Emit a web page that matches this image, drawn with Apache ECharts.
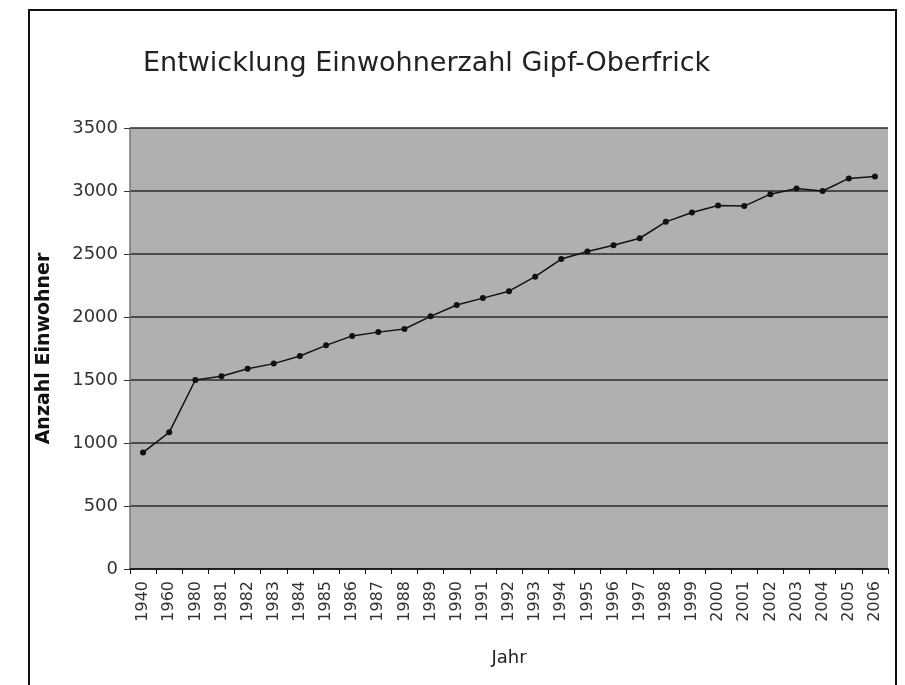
<!DOCTYPE html>
<html>
<head>
<meta charset="utf-8">
<script src="https://cdn.jsdelivr.net/npm/echarts@6/dist/echarts.min.js"></script>
<style>
  html, body { margin: 0; padding: 0; background: #fff; }
  #chart { width: 905px; height: 685px; }
</style>
</head>
<body>
<div id="chart"></div>
<script>
// Jahre (Kategorien)
var jahre = ['1940', '1960', '1980', '1981', '1982', '1983', '1984', '1985', '1986', '1987',
  '1988', '1989', '1990', '1991', '1992', '1993', '1994', '1995', '1996', '1997',
  '1998', '1999', '2000', '2001', '2002', '2003', '2004', '2005', '2006'];

// Einwohner
var einwohner = [925, 1085, 1500, 1530, 1590, 1630, 1690, 1775, 1850, 1880,
  1905, 2005, 2095, 2150, 2205, 2320, 2460, 2520, 2570, 2625,
  2755, 2830, 2885, 2880, 2975, 3020, 3000, 3100, 3115];

var titel = 'Entwicklung Einwohnerzahl Gipf-Oberfrick';
var fnt = 'DejaVu Sans';

var chart = echarts.init(document.getElementById('chart'));

var option = {
  backgroundColor: '#fff',
  animation: false,
  title: {
    text: titel,
    left: 138,
    top: 45,
    textStyle: { fontFamily: fnt, fontSize: 27, fontWeight: 'normal', color: '#222' }
  },
  graphic: [{
    type: 'rect',
    shape: { x: 29, y: 10, width: 867, height: 690 },
    style: { fill: 'none', stroke: '#111', lineWidth: 2 },
    silent: true
  }],
  grid: {
    left: 130,
    right: 17,
    top: 128,
    bottom: 116,
    show: true,
    backgroundColor: '#b0b0b0',
    borderWidth: 0
  },
  xAxis: {
    type: 'category',
    data: jahre,
    boundaryGap: true,
    name: 'Jahr',
    nameLocation: 'middle',
    nameGap: 80,
    nameTextStyle: { fontFamily: fnt, fontSize: 18, color: '#222' },
    axisLine: { lineStyle: { color: '#111', width: 1.5 } },
    axisTick: { show: true, alignWithLabel: false, length: 5, lineStyle: { color: '#111' } },
    axisLabel: {
      interval: 0,
      rotate: 90,
      margin: 12,
      fontFamily: fnt,
      fontSize: 16,
      color: '#333'
    },
    splitLine: { show: false }
  },
  yAxis: {
    type: 'value',
    min: 0,
    max: 3500,
    interval: 500,
    name: 'Anzahl Einwohner',
    nameLocation: 'middle',
    nameGap: 76,
    nameTextStyle: { fontFamily: fnt, fontSize: 19, fontWeight: 'bold', color: '#111' },
    axisLine: { show: true, lineStyle: { color: '#777', width: 1.5 } },
    axisTick: { show: true, length: 6, lineStyle: { color: '#333' } },
    axisLabel: {
      fontFamily: fnt, fontSize: 18, color: '#333', margin: 12,
      formatter: function (v) { return String(v); }
    },
    splitLine: { show: true, lineStyle: { color: '#2a2a2a', width: 1.5 } }
  },
  series: [{
    type: 'line',
    data: einwohner,
    symbol: 'circle',
    symbolSize: 6,
    lineStyle: { color: '#111', width: 1.5 },
    itemStyle: { color: '#111' }
  }]
};

chart.setOption(option);
</script>
</body>
</html>
